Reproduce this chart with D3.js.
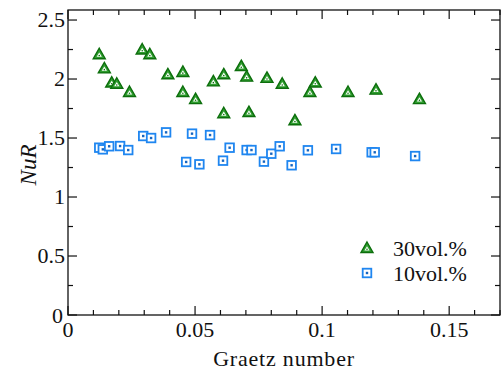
<!DOCTYPE html>
<html>
<head>
<meta charset="utf-8">
<script src="https://cdn.jsdelivr.net/npm/d3@7"></script>
</head>
<body style="margin:0">
<script>
// 30vol.% series
const graetz30 = [0.0123, 0.0143, 0.0172, 0.0192, 0.0242, 0.0292, 0.0322, 0.0393, 0.0452, 0.0452,
	0.0502, 0.0572, 0.0613, 0.0613, 0.0682, 0.0703, 0.0712, 0.0783, 0.0843, 0.0893, 0.0952, 0.0973,
	0.1102, 0.1212, 0.1383]
const nur30 = [2.21, 2.09, 1.97, 1.96, 1.89, 2.25, 2.21, 2.04, 2.06, 1.89,
	1.83, 1.98, 2.04, 1.71, 2.11, 2.02, 1.72, 2.01, 1.96, 1.65, 1.89, 1.97,
	1.89, 1.91, 1.83]

// 10vol.% series
const graetz10 = [0.0123, 0.0137, 0.0162, 0.0205, 0.0237, 0.0296, 0.0327, 0.0386, 0.0465, 0.0488,
	0.0517, 0.0559, 0.061, 0.0636, 0.0703, 0.0722, 0.0771, 0.08, 0.0833, 0.088, 0.0944, 0.1055,
	0.1195, 0.1207, 0.1366]
const nur10 = [1.418, 1.404, 1.43, 1.432, 1.398, 1.517, 1.5, 1.548, 1.297, 1.537,
	1.277, 1.525, 1.308, 1.418, 1.398, 1.398, 1.3, 1.367, 1.43, 1.269, 1.396, 1.407,
	1.379, 1.379, 1.347]

const xTicks = [0, 0.05, 0.1, 0.15]
const xMinor = d3.range(0, 0.171, 0.01)
const yTicks = [0, 0.5, 1, 1.5, 2, 2.5]
const yMinor = d3.range(0, 2.51, 0.25)
const legendLabels = ['30vol.%', '10vol.%']

const W = 501
const H = 378
const plotL = 68, plotR = 500, plotT = 10, plotB = 315
const FONT = "'Liberation Serif', serif"

const scaleX = d3.scaleLinear().domain([0, 0.17]).range([plotL, plotR])
const scaleY = d3.scaleLinear().domain([0, 2.585]).range([plotB, plotT])

const svg = d3.select('body').append('svg')
	.attr('width', W)
	.attr('height', H)

function label(sel) {
	return sel
		.attr('font-family', FONT)
		.style('font-family', FONT)
		.attr('font-size', 22)
		.attr('fill', '#111')
}

// frame
svg.append('rect')
	.attr('x', plotL)
	.attr('y', plotT)
	.attr('width', plotR - plotL)
	.attr('height', plotB - plotT)
	.attr('fill', 'none')
	.attr('stroke', '#111')
	.attr('stroke-width', 1.3)

function tickLen(v, step) {
	return Math.abs(v / step - Math.round(v / step)) < 1e-6 ? 9 : 5
}

// x ticks bottom and top, pointing inward
const gx = svg.append('g').attr('stroke', '#111').attr('stroke-width', 1.2)
xMinor.forEach(v => {
	const L = tickLen(v, 0.05)
	gx.append('line').attr('x1', scaleX(v)).attr('x2', scaleX(v)).attr('y1', plotB).attr('y2', plotB - L)
	gx.append('line').attr('x1', scaleX(v)).attr('x2', scaleX(v)).attr('y1', plotT).attr('y2', plotT + L)
})

// y ticks left and right
const gy = svg.append('g').attr('stroke', '#111').attr('stroke-width', 1.2)
yMinor.forEach(v => {
	const L = tickLen(v, 0.5)
	gy.append('line').attr('y1', scaleY(v)).attr('y2', scaleY(v)).attr('x1', plotL).attr('x2', plotL + L)
	gy.append('line').attr('y1', scaleY(v)).attr('y2', scaleY(v)).attr('x1', plotR).attr('x2', plotR - L)
})

svg.append('g').selectAll('text').data(xTicks).enter().append('text')
	.call(label)
	.attr('x', d => scaleX(d))
	.attr('y', plotB + 22)
	.attr('text-anchor', 'middle')
	.text(d => d)

svg.append('g').selectAll('text').data(yTicks).enter().append('text')
	.call(label)
	.attr('x', d => plotL - 3 - (d === 0 ? 2 : 0))
	.attr('y', d => scaleY(d) + 7 + (d === 0 ? 1 : 0))
	.attr('text-anchor', 'end')
	.text(d => d)

svg.append('text')
	.call(label)
	.attr('x', 284)
	.attr('y', 366)
	.attr('text-anchor', 'middle')
	.attr('letter-spacing', 0.8)
	.text('Graetz number')

svg.append('text')
	.call(label)
	.attr('transform', 'translate(36,165) rotate(-90)')
	.attr('text-anchor', 'middle')
	.attr('font-size', 23)
	.attr('font-style', 'italic')
	.text('NuR')

// markers
function triangle(g) {
	g.append('path').attr('d', 'M0,-6 L6,4.5 L-6,4.5 Z')
		.attr('fill', '#2f9e2f').attr('stroke', '#0c6e0c').attr('stroke-width', 1.4)
	g.append('path').attr('d', 'M0,-1.8 L2.6,2.4 L-2.6,2.4 Z')
		.attr('fill', '#fff').attr('stroke', 'none')
	g.append('circle').attr('cx', 0).attr('cy', 1.2).attr('r', 0.8).attr('fill', '#0c6e0c')
}
function square(g) {
	g.append('rect').attr('x', -4.3).attr('y', -4.3).attr('width', 8.6).attr('height', 8.6)
		.attr('fill', '#fff').attr('stroke', '#1f86f0').attr('stroke-width', 1.8)
	g.append('rect').attr('x', -1.2).attr('y', -1.2).attr('width', 2.4).attr('height', 2.4)
		.attr('fill', '#1565c0')
}

const pts10 = graetz10.map((x, i) => ({ x, y: nur10[i] }))
const pts30 = graetz30.map((x, i) => ({ x, y: nur30[i] }))

svg.append('g').selectAll('g').data(pts10).enter().append('g')
	.attr('transform', d => `translate(${scaleX(d.x)},${scaleY(d.y)})`)
	.each(function () { square(d3.select(this)) })

svg.append('g').selectAll('g').data(pts30).enter().append('g')
	.attr('transform', d => `translate(${scaleX(d.x)},${scaleY(d.y)})`)
	.each(function () { triangle(d3.select(this)) })

// legend
const leg = svg.append('g')
legendLabels.forEach((lab, i) => {
	const y = 248 + i * 25
	const m = leg.append('g').attr('transform', `translate(367,${y})`)
	if (i === 0) triangle(m)
	else square(m)
	leg.append('text')
		.call(label)
		.attr('x', 393)
		.attr('y', y + 8)
		.text(lab)
})
</script>
</body>
</html>
